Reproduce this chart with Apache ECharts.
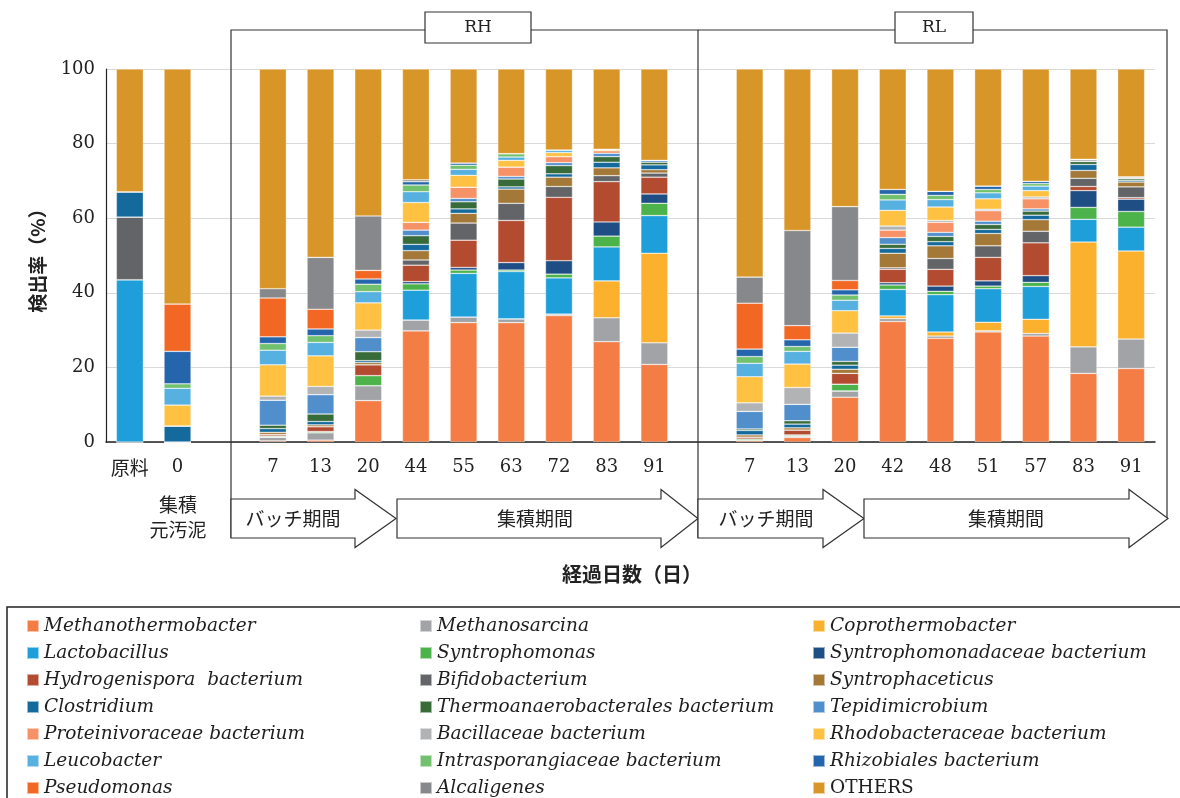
<!DOCTYPE html>
<html>
<head>
<meta charset="utf-8">
<script src="https://cdn.jsdelivr.net/npm/echarts@6/dist/echarts.min.js"></script>
<style>
  html, body { margin: 0; padding: 0; background: #ffffff; }
  #chart { width: 1180px; height: 798px; }
</style>
</head>
<body>
<div id="chart"></div>
<script>
// Sampling days; blank entries are spacers between the sample groups
const categories = ['原料', '0', '', '7', '13', '20', '44', '55', '63', '72', '83', '91', '',
                    '7', '13', '20', '42', '48', '51', '57', '83', '91'];
const yTicks = [0, 20, 40, 60, 80, 100];

// Taxa in stacking order (bottom to top)
const taxa = [
  'Methanothermobacter', 'Methanosarcina', 'Coprothermobacter',
  'Lactobacillus', 'Syntrophomonas', 'Syntrophomonadaceae bacterium',
  'Hydrogenispora  bacterium', 'Bifidobacterium', 'Syntrophaceticus',
  'Clostridium', 'Thermoanaerobacterales bacterium', 'Tepidimicrobium',
  'Proteinivoraceae bacterium', 'Bacillaceae bacterium', 'Rhodobacteraceae bacterium',
  'Leucobacter', 'Intrasporangiaceae bacterium', 'Rhizobiales bacterium',
  'Pseudomonas', 'Alcaligenes', 'OTHERS'
];

// Relative abundance (%) per sample
const methanothermobacter = [0, 0, '-', 0.3, 0.5, 11.1, 29.8, 32.0, 32.0, 33.9, 26.9, 20.8, '-', 0.4, 1.2, 12.0, 32.3, 27.8, 29.5, 28.4, 18.4, 19.7];
const methanosarcina      = [0, 0, '-', 1.0, 2.0, 4.0, 2.9, 1.5, 1.0, 0.4, 6.4, 5.8, '-', 0, 0.4, 1.7, 0.8, 0.6, 0.3, 0.7, 7.1, 7.9];
const coprothermobacter   = [0, 0, '-', 0, 0, 0, 0, 0, 0, 0, 9.9, 24.0, '-', 0, 0, 0, 0.7, 1.1, 2.3, 3.8, 28.1, 23.6];
const lactobacillus       = [43.5, 0, '-', 0, 0, 0, 8.0, 11.7, 12.7, 9.7, 9.1, 10.1, '-', 0, 0, 0, 7.1, 10.0, 9.0, 8.8, 6.1, 6.4];
const syntrophomonas      = [0, 0, '-', 0.3, 0.3, 2.7, 1.7, 0.9, 0.4, 1.0, 2.9, 3.3, '-', 0.4, 0.3, 1.8, 1.2, 0.9, 0.7, 1.1, 3.2, 4.2];
const syntrophomonadaceae = [0, 0, '-', 0, 0, 0, 0.6, 0.7, 2.0, 3.6, 3.8, 2.5, '-', 0, 0, 0, 0.6, 1.4, 1.4, 1.8, 4.5, 3.3];
const hydrogenispora      = [0, 0, '-', 0.4, 1.3, 2.9, 4.4, 7.3, 11.3, 17.0, 10.8, 4.5, '-', 0.5, 1.3, 2.9, 3.6, 4.5, 6.3, 8.8, 1.1, 0.4];
const bifidobacterium     = [16.8, 0, '-', 0, 0, 0, 1.4, 4.6, 4.6, 2.9, 1.6, 1.1, '-', 0, 0, 0, 0.4, 2.9, 3.1, 3.1, 2.2, 2.9];
const syntrophaceticus    = [0, 0, '-', 0.6, 0.5, 0.6, 2.5, 2.6, 3.8, 2.5, 2.1, 0.9, '-', 0.6, 0.6, 1.1, 3.9, 3.4, 3.3, 3.1, 2.1, 1.3];
const clostridium         = [6.8, 4.3, '-', 1.0, 0.9, 0.5, 1.7, 1.2, 0.6, 0.9, 1.5, 1.3, '-', 1.2, 1.0, 1.1, 1.3, 1.1, 1.1, 1.2, 1.6, 0.4];
const thermoanaerobacterales = [0, 0, '-', 0.9, 2.0, 2.4, 2.3, 1.9, 2.1, 2.2, 1.5, 0.7, '-', 0.4, 0.9, 1.0, 1.1, 1.4, 1.3, 1.1, 0.8, 0.5];
const tepidimicrobium     = [0, 0, '-', 6.7, 5.2, 3.8, 1.5, 0.9, 0.7, 0.8, 0.9, 0.5, '-', 4.7, 4.4, 3.8, 1.8, 1.1, 0.9, 0.6, 0, 0];
const proteinivoraceae    = [0, 0, '-', 0, 0, 0, 2.1, 3.0, 2.5, 1.6, 0.7, 0, '-', 0, 0, 0, 2.0, 2.7, 2.8, 2.7, 0, 0];
const bacillaceae         = [0, 0, '-', 1.1, 2.2, 2.0, 0, 0, 0, 0, 0, 0, '-', 2.3, 4.5, 3.8, 1.1, 0.5, 0.4, 0.5, 0.6, 0.5];
const rhodobacteraceae    = [0, 5.6, '-', 8.4, 8.2, 7.3, 5.3, 3.2, 1.8, 1.1, 0.4, 0, '-', 7.0, 6.3, 6.0, 4.2, 3.6, 2.8, 1.7, 0, 0];
const leucobacter         = [0, 4.5, '-', 3.9, 3.6, 3.0, 2.9, 1.6, 0.9, 0.7, 0, 0, '-', 3.6, 3.4, 2.8, 2.8, 2.0, 1.6, 1.2, 0, 0];
const intrasporangiaceae  = [0, 1.2, '-', 1.8, 1.8, 2.0, 1.8, 1.1, 0.9, 0, 0, 0, '-', 1.8, 1.3, 1.4, 1.5, 1.1, 0.9, 0.7, 0, 0];
const rhizobiales         = [0, 8.7, '-', 1.8, 1.8, 1.4, 0.9, 0.6, 0, 0, 0, 0, '-', 2.0, 1.8, 1.4, 1.3, 1.1, 0.9, 0.6, 0, 0];
const pseudomonas         = [0, 12.7, '-', 10.4, 5.3, 2.3, 0, 0, 0, 0, 0, 0, '-', 12.3, 3.8, 2.5, 0, 0, 0, 0, 0, 0];
const alcaligenes         = [0, 0, '-', 2.5, 13.9, 14.6, 0.5, 0, 0, 0, 0, 0, '-', 7.0, 25.5, 19.8, 0, 0, 0, 0, 0, 0];
const others              = [32.9, 63.0, '-', 58.9, 50.5, 39.4, 29.7, 25.2, 22.7, 21.7, 21.5, 24.5, '-', 55.8, 43.3, 36.9, 32.3, 32.8, 31.4, 30.1, 24.2, 28.9];

const values = [
  methanothermobacter, methanosarcina, coprothermobacter,
  lactobacillus, syntrophomonas, syntrophomonadaceae,
  hydrogenispora, bifidobacterium, syntrophaceticus,
  clostridium, thermoanaerobacterales, tepidimicrobium,
  proteinivoraceae, bacillaceae, rhodobacteraceae,
  leucobacter, intrasporangiaceae, rhizobiales,
  pseudomonas, alcaligenes, others
];

const colors = [
  '#f47d45', '#a2a3a6', '#fbb12d',
  '#1e9fd9', '#4cb24a', '#1f4e84',
  '#b34b30', '#636467', '#a47836',
  '#146a9d', '#376b3a', '#508fcc',
  '#f69266', '#b2b3b5', '#fec142',
  '#56b0e0', '#71c16e', '#2565ab',
  '#f26724', '#87888b', '#d99628'
];

const SERIF = 'DejaVu Serif';
const CJK = '"Noto Sans CJK JP", "Noto Sans CJK SC", sans-serif';
const LINE = '#333333';

const series = taxa.map((name, i) => ({
  name: name,
  type: 'bar',
  stack: 'abundance',
  barWidth: 27,
  data: values[i],
  itemStyle: { color: colors[i], borderColor: 'rgba(255,255,255,0.55)', borderWidth: 0.6 },
  emphasis: { disabled: true }
}));

// Legend laid out in three columns, filled row by row
function legendColumn(col, left) {
  return {
    orient: 'vertical',
    left: left,
    top: 611,
    height: 190,
    icon: 'rect',
    itemWidth: 12,
    itemHeight: 12,
    itemGap: 7,
    selectedMode: false,
    data: taxa.filter((_, i) => i % 3 === col),
    formatter: (n) => (n === 'OTHERS' ? '{o|OTHERS}' : n),
    textStyle: {
      fontFamily: SERIF,
      fontStyle: 'italic',
      fontSize: 18.5,
      lineHeight: 20,
      color: '#1e1e1e',
      rich: { o: { fontFamily: SERIF, fontStyle: 'normal', fontSize: 18.5, lineHeight: 20, color: '#1e1e1e' } }
    }
  };
}

// Block arrow for the period annotations
function blockArrow(x0, xh, tip, yc) {
  return {
    type: 'polygon',
    shape: { points: [[x0, yc - 19.5], [xh, yc - 19.5], [xh, yc - 29], [tip, yc], [xh, yc + 29], [xh, yc + 19.5], [x0, yc + 19.5]] },
    style: { fill: '#ffffff', stroke: LINE, lineWidth: 1.2 },
    z: 10
  };
}
function label(text, x, y, font) {
  return {
    type: 'text', x: x, y: y, z: 12,
    style: { text: text, fill: '#222222', font: font, align: 'center', verticalAlign: 'middle' }
  };
}
function line(points) {
  return { type: 'polyline', shape: { points: points }, style: { stroke: LINE, lineWidth: 1.2, fill: null }, z: 9 };
}

const arrowY = 518.5;
const graphics = [
  // group frames
  line([[425, 30], [231, 30], [231, 538]]),
  line([[531, 30], [698, 30], [698, 538]]),
  line([[698, 30], [895, 30]]),
  line([[973, 30], [1167, 30], [1167, 518]]),
  { type: 'rect', shape: { x: 425, y: 12, width: 106, height: 31 }, style: { fill: '#fff', stroke: LINE, lineWidth: 1.2 }, z: 10 },
  { type: 'rect', shape: { x: 895, y: 12, width: 78, height: 31 }, style: { fill: '#fff', stroke: LINE, lineWidth: 1.2 }, z: 10 },
  label('RH', 478, 28, '17px ' + SERIF),
  label('RL', 934, 28, '17px ' + SERIF),
  // period arrows
  blockArrow(231, 355, 396, arrowY),
  blockArrow(397, 661, 698, arrowY),
  blockArrow(698, 823, 864, arrowY),
  blockArrow(864, 1129, 1168, arrowY),
  label('バッチ期間', 293, arrowY, '19px ' + CJK),
  label('集積期間', 535, arrowY, '19px ' + CJK),
  label('バッチ期間', 766, arrowY, '19px ' + CJK),
  label('集積期間', 1006, arrowY, '19px ' + CJK),
  // sample description under day 0
  label('集積', 178, 505, '19px ' + CJK),
  label('元汚泥', 178, 530, '19px ' + CJK),
  // axis titles
  label('経過日数（日）', 632, 574, 'bold 20px ' + CJK),
  { type: 'text', x: 38, y: 256, rotation: Math.PI / 2, z: 12,
    style: { text: '検出率（%）', fill: '#222', font: 'bold 19px ' + CJK, align: 'center', verticalAlign: 'middle' } },
  // legend frame
  { type: 'rect', shape: { x: 7, y: 607, width: 1190, height: 210 }, style: { fill: null, stroke: '#222', lineWidth: 1.5 }, z: 1 }
];

const chart = echarts.init(document.getElementById('chart'), null, { renderer: 'canvas' });
chart.setOption({
  animation: false,
  backgroundColor: '#ffffff',
  grid: { left: 106, right: 25, top: 69, bottom: 356, containLabel: false },
  xAxis: {
    type: 'category',
    data: categories,
    axisLine: { lineStyle: { color: '#222', width: 1.5 } },
    axisTick: { show: false },
    axisLabel: {
      interval: 0,
      margin: 16,
      color: '#222',
      fontFamily: SERIF,
      fontSize: 18,
      formatter: (v) => (v === '原料' ? '{c|原料}' : v),
      rich: { c: { fontFamily: CJK, fontSize: 19, color: '#222' } }
    }
  },
  yAxis: {
    type: 'value',
    min: yTicks[0],
    max: yTicks[yTicks.length - 1],
    interval: 20,
    axisLine: { show: true, lineStyle: { color: '#222', width: 1.2 } },
    axisTick: { show: false },
    axisLabel: { margin: 11, color: '#222', fontFamily: SERIF, fontSize: 18 },
    splitLine: { lineStyle: { color: '#d9d9d9', width: 1.2 } }
  },
  legend: [legendColumn(0, 21), legendColumn(1, 414), legendColumn(2, 807)],
  series: series,
  graphic: graphics
});
</script>
</body>
</html>
